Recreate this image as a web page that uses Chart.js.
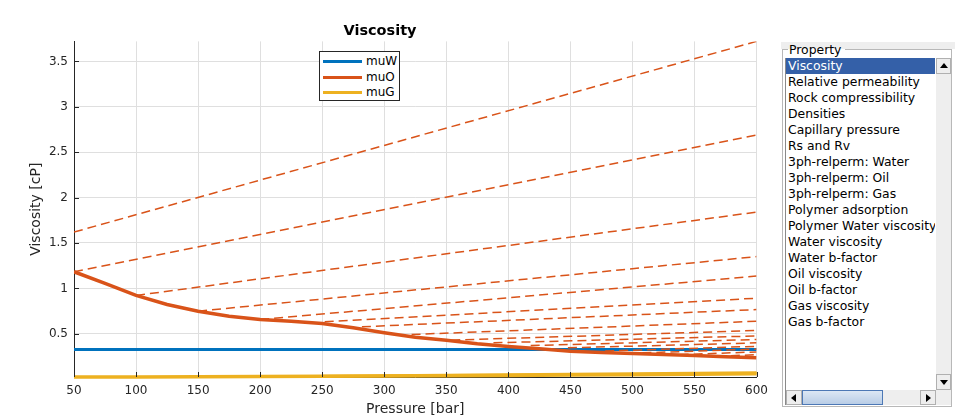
<!DOCTYPE html>
<html>
<head>
<meta charset="utf-8">
<title>Viscosity</title>
<script src="https://cdn.jsdelivr.net/npm/chart.js@4.4.1/dist/chart.umd.min.js"></script>
<style>
  body { margin: 0; background: #fff; font-family: "DejaVu Sans", sans-serif; }
  #wrap { position: relative; width: 980px; height: 420px; overflow: hidden; }
  #plot { position: absolute; left: 0; top: 0; }
  #legend { position: absolute; left: 319px; top: 51px; width: 79px; height: 48px;
    border: 1px solid #262626; background: #fff; font-size: 12px; color: #000; }
  .leg-row { position: absolute; left: 3px; height: 15px; width: 76px; }
  .leg-line { position: absolute; left: 0; top: 6px; width: 39px; height: 3px; }
  .leg-text { position: absolute; left: 43px; top: 0; line-height: 15px; }
  #strip { position: absolute; left: 781px; top: 42px; width: 174px; height: 7px; background: #eeeeee; }
  .frame { position: absolute; background: #b8b8b8; }
  #grpTitle { position: absolute; left: 789px; top: 42px; font-size: 12.4px; line-height: 16px; color: #000; }
  #list { position: absolute; left: 785px; top: 58px; width: 166px; height: 347px;
    border-left: 1px solid #8a8a8a; box-sizing: border-box; background: #fff; }
  .item { position: absolute; left: 0; width: 149px; height: 16px; line-height: 16px;
    font-size: 12.4px; padding-left: 2px; white-space: nowrap; overflow: hidden; color: #000; box-sizing: border-box; }
  .item.sel { background: #3460a8; color: #fff; }
  .sb { position: absolute; background: #eeeeee; }
  .btn { position: absolute; background: #eeeeee; border: 1px solid #b0b0b0; box-sizing: border-box; }
  .tri { position: absolute; width: 0; height: 0; border-style: solid; }
  .up { left: 3px; top: 4px; border-width: 0 4px 5px 4px; border-color: transparent transparent #000 transparent; }
  .down { left: 3px; top: 5px; border-width: 5px 4px 0 4px; border-color: #000 transparent transparent transparent; }
  .left { left: 4px; top: 3px; border-width: 4px 5px 4px 0; border-color: transparent #000 transparent transparent; }
  .right { left: 5px; top: 3px; border-width: 4px 0 4px 5px; border-color: transparent transparent transparent #000; }
  #thumb { position: absolute; left: 16px; top: 0; width: 81px; height: 15px; box-sizing: border-box;
    border: 1px solid #4d78b5; background: linear-gradient(#dce7f4, #b9cde6); }
  #grip { position: absolute; left: 31px; top: 4px; width: 16px; height: 6px;
    background-image: radial-gradient(#8aa6cc 40%, transparent 45%); background-size: 2px 2px; }
</style>
</head>
<body>
<div id="wrap">
  <canvas id="plot" width="775" height="420"></canvas>
  <div id="legend"></div>

  <div id="strip"></div>
  <div class="frame" style="left:782px;top:49px;width:6px;height:1px;"></div>
  <div class="frame" style="left:845px;top:49px;width:107px;height:1px;"></div>
  <div class="frame" style="left:782px;top:49px;width:1px;height:358px;"></div>
  <div class="frame" style="left:951px;top:49px;width:1px;height:358px;"></div>
  <div class="frame" style="left:782px;top:406px;width:170px;height:1px;"></div>
  <div id="grpTitle">Property</div>

  <div id="list">
    <div id="items"></div>
    <div class="sb" style="left:150px;top:0;width:15px;height:332px;">
      <div class="btn" style="left:0;top:0;width:15px;height:16px;"><div class="tri up"></div></div>
      <div class="btn" style="left:0;top:316px;width:15px;height:16px;"><div class="tri down"></div></div>
    </div>
    <div class="sb" style="left:0;top:332px;width:150px;height:15px;">
      <div class="btn" style="left:0;top:0;width:16px;height:15px;"><div class="tri left"></div></div>
      <div id="thumb"><div id="grip"></div></div>
      <div class="btn" style="left:134px;top:0;width:16px;height:15px;"><div class="tri right"></div></div>
    </div>
    <div class="sb" style="left:150px;top:332px;width:15px;height:15px;"></div>
  </div>
</div>

<script>
// ---- data ----
const pressure = [50, 100, 150, 200, 250, 300, 350, 400, 450, 500, 550, 600];
const muW = [0.327, 0.327, 0.327, 0.327, 0.327, 0.327, 0.327, 0.327, 0.327, 0.327, 0.327, 0.327];
const muG = [0.024, 0.025, 0.027, 0.029, 0.031, 0.034, 0.037, 0.041, 0.045, 0.05, 0.055, 0.06];

// saturated oil curve (solid)
const oilPressure = [50, 75, 100, 125, 150, 175, 200, 225, 250, 275, 300, 325, 350, 375, 400,
  425, 450, 475, 500, 525, 550, 575, 600];
const muO = [1.183, 1.055, 0.922, 0.823, 0.749, 0.694, 0.658, 0.639, 0.614, 0.566, 0.511, 0.463,
  0.43, 0.39, 0.36, 0.335, 0.308, 0.295, 0.283, 0.272, 0.261, 0.248, 0.235];

// undersaturated oil branches (dashed): start pressure, start value, value at 600 bar
const branchP0 = [50, 50, 100, 150, 200, 252, 282, 322, 354, 388, 418, 448, 478, 508, 538, 568];
const branchMu0 = [1.62, 1.183, 0.922, 0.749, 0.658, 0.632, 0.577, 0.492, 0.43, 0.4, 0.37, 0.345,
  0.31, 0.29, 0.27, 0.252];
const branchMuEnd = [3.72, 2.69, 1.84, 1.35, 1.135, 0.892, 0.767, 0.638, 0.536, 0.476, 0.437, 0.4,
  0.362, 0.331, 0.3, 0.27];
const branchPEnd = 600;

// second gas curve
const gasBranchP = [250, 600];
const gasBranchMu = [0.031, 0.072];

const xTicks = [50, 100, 150, 200, 250, 300, 350, 400, 450, 500, 550, 600];
const yTicks = [0.5, 1, 1.5, 2, 2.5, 3, 3.5];
const yMin = 0.024;
const yMax = 3.72;

const legendLabels = ["muW", "muO", "muG"];
const properties = ["Viscosity", "Relative permeability", "Rock compressibility", "Densities",
  "Capillary pressure", "Rs and Rv", "3ph-relperm: Water", "3ph-relperm: Oil", "3ph-relperm: Gas",
  "Polymer adsorption", "Polymer Water viscosity", "Water viscosity", "Water b-factor",
  "Oil viscosity", "Oil b-factor", "Gas viscosity", "Gas b-factor"];

// ---- colours ----
const cW = "#0072BD";
const cO = "#D95319";
const cG = "#EDB120";
const ink = "#262626";

function xy(xs, ys) {
  return xs.map((x, i) => ({ x: x, y: ys[i] }));
}

const datasets = [];
datasets.push({ label: "muW", data: xy(pressure, muW), borderColor: cW, borderWidth: 3, order: 3 });
datasets.push({ label: "muO", data: xy(oilPressure, muO), borderColor: cO, borderWidth: 3.5, order: 1 });
branchP0.forEach((p0, i) => {
  datasets.push({
    label: "muO branch " + (i + 1),
    data: xy([p0, branchPEnd], [branchMu0[i], branchMuEnd[i]]),
    borderColor: cO, borderWidth: 1.5, borderDash: [9, 5], order: 2
  });
});
datasets.push({ label: "muG", data: xy(pressure, muG), borderColor: cG, borderWidth: 3.5, order: 0, clip: 4 });
datasets.push({ label: "muG branch", data: xy(gasBranchP, gasBranchMu), borderColor: cG, borderWidth: 3, order: 0, clip: 4 });

// inward tick marks, MATLAB style
const innerTicks = {
  id: "innerTicks",
  afterDatasetsDraw(chart) {
    const { ctx, chartArea, scales } = chart;
    ctx.save();
    ctx.strokeStyle = ink;
    ctx.lineWidth = 1;
    ctx.beginPath();
    scales.x.ticks.forEach((t) => {
      const px = Math.round(scales.x.getPixelForValue(t.value)) + 0.5;
      ctx.moveTo(px, chartArea.bottom);
      ctx.lineTo(px, chartArea.bottom - 5);
    });
    scales.y.ticks.forEach((t) => {
      const py = Math.round(scales.y.getPixelForValue(t.value)) + 0.5;
      ctx.moveTo(chartArea.left, py);
      ctx.lineTo(chartArea.left + 5, py);
    });
    ctx.stroke();
    ctx.restore();
  }
};

const chart = new Chart(document.getElementById("plot"), {
  type: "line",
  data: { datasets: datasets },
  options: {
    responsive: false,
    animation: false,
    elements: { point: { radius: 0 }, line: { tension: 0 } },
    layout: { padding: { left: 0, right: 15, top: 0, bottom: 0 } },
    plugins: {
      legend: { display: false },
      tooltip: { enabled: false },
      title: {
        display: true,
        text: "Viscosity",
        color: "#000",
        font: { family: "DejaVu Sans", size: 14.5, weight: "bold" },
        padding: { top: 23, bottom: 1 }
      }
    },
    scales: {
      x: {
        type: "linear",
        min: 50,
        max: 600,
        afterBuildTicks: (s) => { s.ticks = xTicks.map((v) => ({ value: v })); },
        afterFit: (s) => { s.height = 43; },
        grid: { color: "#dfdfdf", drawTicks: false },
        border: { display: true, color: ink, width: 1 },
        ticks: { color: ink, padding: 7, font: { family: "DejaVu Sans", size: 12 }, maxRotation: 0,
          callback: (v) => String(v) },
        title: {
          display: true, text: "Pressure [bar]", color: ink,
          font: { family: "DejaVu Sans", size: 14 }, padding: { top: 0, bottom: 2 }
        }
      },
      y: {
        type: "linear",
        min: yMin,
        max: yMax,
        afterBuildTicks: (s) => { s.ticks = yTicks.map((v) => ({ value: v })); },
        afterFit: (s) => { s.width = 74; },
        grid: { color: "#dfdfdf", drawTicks: false },
        border: { display: true, color: ink, width: 1 },
        ticks: { color: ink, padding: 6, font: { family: "DejaVu Sans", size: 12 },
          callback: (v) => String(v) },
        title: {
          display: true, text: "Viscosity [cP]", color: ink,
          font: { family: "DejaVu Sans", size: 14 }, padding: { top: 28, bottom: 0 }
        }
      }
    }
  },
  plugins: [innerTicks]
});

// legend box inside the axes
const legend = document.getElementById("legend");
[cW, cO, cG].forEach((c, i) => {
  const row = document.createElement("div");
  row.className = "leg-row";
  row.style.top = (2 + i * 15.5) + "px";
  row.innerHTML = '<div class="leg-line" style="background:' + c + '"></div>' +
    '<div class="leg-text">' + legendLabels[i] + "</div>";
  legend.appendChild(row);
});

// property list
const items = document.getElementById("items");
properties.forEach((name, i) => {
  const d = document.createElement("div");
  d.className = "item" + (i === 0 ? " sel" : "");
  d.style.top = (i * 16) + "px";
  d.textContent = name;
  items.appendChild(d);
});
</script>
</body>
</html>
